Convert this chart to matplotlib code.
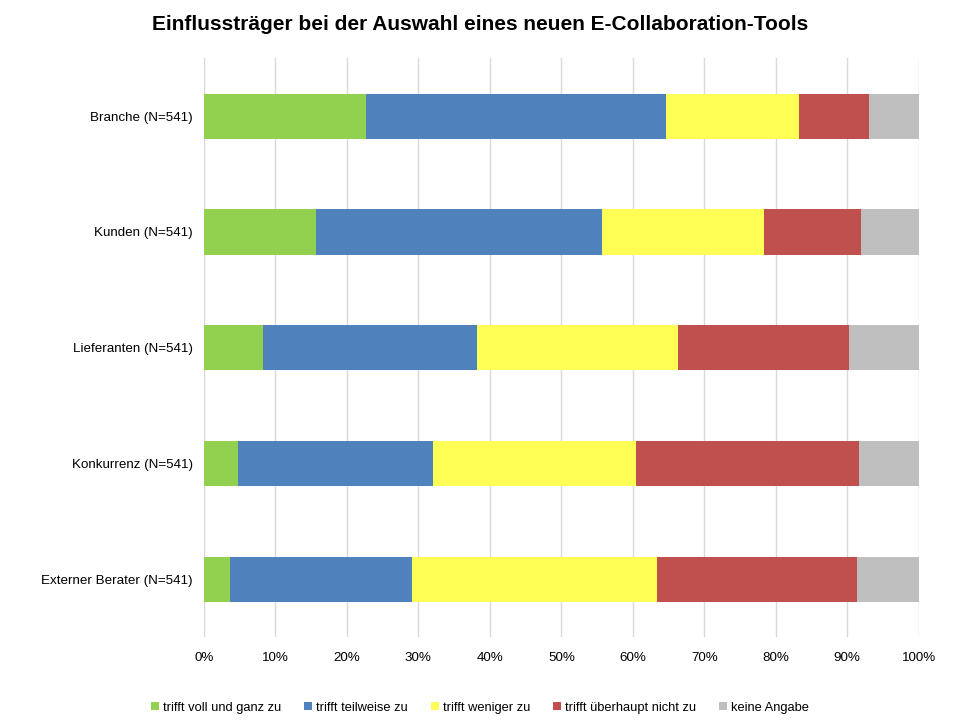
import numpy as np
import matplotlib.pyplot as plt

plt.rcParams['font.family'] = ['Liberation Sans', 'DejaVu Sans']

# Daten (Anteile in %)
kategorien = ['Branche (N=541)', 'Kunden (N=541)', 'Lieferanten (N=541)',
              'Konkurrenz (N=541)', 'Externer Berater (N=541)']
serien = ['trifft voll und ganz zu', 'trifft teilweise zu', 'trifft weniger zu',
          'trifft überhaupt nicht zu', 'keine Angabe']
voll = [22.6, 15.7, 8.2, 4.7, 3.7]
teilweise = [42.0, 40.0, 30.0, 27.4, 25.4]
weniger = [18.6, 22.6, 28.1, 28.4, 34.3]
gar_nicht = [9.9, 13.6, 23.9, 31.1, 27.9]
keine = [6.9, 8.1, 9.8, 8.4, 8.7]

farben = ['#92D050', '#4F81BD', '#FFFF55', '#C0504D', '#BFBFBF']

fig = plt.figure(figsize=(9.6, 7.2), dpi=100)
ax = fig.add_axes([0.2125, 0.115, 0.7445, 0.804])

y = np.arange(len(kategorien))
links = np.zeros(len(kategorien))
for werte, name, farbe in zip([voll, teilweise, weniger, gar_nicht, keine], serien, farben):
    ax.barh(y, werte, left=links, height=0.39, color=farbe, label=name, zorder=3)
    links += np.array(werte)

ax.set_ylim(len(kategorien) - 0.5, -0.5)
ax.set_yticks(y)
ax.set_yticklabels(kategorien, fontsize=9.6)
ax.set_xlim(0, 100)
ax.set_xticks(np.arange(0, 101, 10))
ax.set_xticklabels([f'{v}%' for v in range(0, 101, 10)], fontsize=9.6)
ax.tick_params(axis='y', length=0, pad=8)
ax.tick_params(axis='x', length=0, pad=11)
ax.grid(axis='x', color='#D9D9D9', linewidth=1, zorder=0)
for s in ax.spines.values():
    s.set_visible(False)

fig.suptitle('Einflussträger bei der Auswahl eines neuen E-Collaboration-Tools',
             fontsize=15, fontweight='bold', y=0.979)

fig.legend(loc='center', bbox_to_anchor=(0.5, 0.017), ncol=5, frameon=False,
           fontsize=9.3, handlelength=0.6, handleheight=0.6, handletextpad=0.3,
           columnspacing=1.8)

fig.savefig('out.png', dpi=100)
